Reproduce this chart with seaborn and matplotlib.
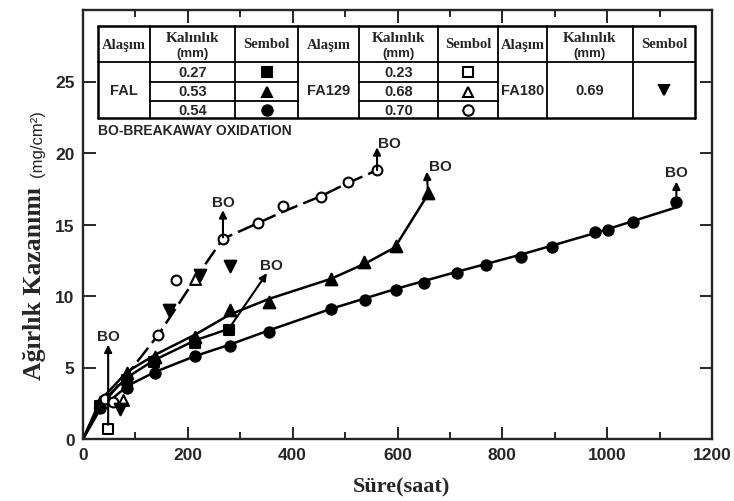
import seaborn as sns
import matplotlib.pyplot as plt
from matplotlib.lines import Line2D

# measured points, FAL alloy
fal027_x = [33, 84, 135, 214, 278]
fal027_y = [2.3, 4.1, 5.4, 6.7, 7.6]
fal053_x = [33, 84, 138, 214, 280, 355, 473, 536, 597, 658]
fal053_y = [2.6, 4.6, 5.7, 7.1, 9.0, 9.6, 11.2, 12.4, 13.5, 17.2]
fal054_x = [33, 84, 138, 214, 280, 355, 473, 538, 597, 650, 714, 769, 836, 894, 977, 1001, 1049, 1132]
fal054_y = [2.2, 3.6, 4.6, 5.8, 6.5, 7.5, 9.1, 9.7, 10.4, 10.9, 11.6, 12.2, 12.7, 13.4, 14.5, 14.6, 15.2, 16.6]

# FA129 alloy
fa129_023_x = [48]
fa129_023_y = [0.7]
fa129_068_x = [76, 214]
fa129_068_y = [2.7, 11.2]
fa129_070_x = [42, 58, 144, 178, 267, 334, 382, 455, 505, 561]
fa129_070_y = [2.8, 2.6, 7.3, 11.1, 14.0, 15.1, 16.3, 16.9, 18.0, 18.8]

# FA180 alloy
fa180_x = [71, 165, 223, 280]
fa180_y = [2.1, 9.0, 11.5, 12.1]

# curves drawn through the points
fit027_x = [0, 33, 84, 135, 214, 278]
fit027_y = [0, 2.5, 4.3, 5.5, 6.9, 7.7]
fit053_x = [0, 33, 84, 138, 214, 280, 355, 473, 540, 595, 658]
fit053_y = [0, 2.7, 4.7, 5.9, 7.3, 8.7, 9.8, 11.2, 12.3, 13.4, 17.1]
fit054_x = [0, 33, 84, 138, 214, 280, 355, 473, 597, 714, 836, 977, 1132]
fit054_y = [0, 2.1, 3.7, 4.7, 5.8, 6.6, 7.6, 9.1, 10.5, 11.7, 12.9, 14.4, 16.2]
fitfa_x = [0, 30, 84, 144, 214, 267, 334, 382, 455, 505, 561]
fitfa_y = [0, 2.1, 4.5, 7.3, 11.2, 14.0, 15.1, 15.9, 17.0, 17.9, 18.8]

# breakaway oxidation arrows: start -> tip
bo_x0 = [48, 267, 278, 561, 658, 1132]
bo_y0 = [1.0, 14.1, 7.7, 18.8, 17.2, 16.6]
bo_x1 = [48, 267, 351, 561, 656, 1132]
bo_y1 = [6.6, 16.0, 11.6, 20.4, 18.7, 18.0]
bo_offsets = [(0, 6), (0, 6), (3, 6), (9, 3), (10, 4), (0, 7)]

x_ticks = [0, 200, 400, 600, 800, 1000, 1200]
y_ticks = [0, 5, 10, 15, 20, 25]

sns.set_style("ticks")
plt.rcParams['font.family'] = ['Liberation Sans', 'DejaVu Sans']

W, H = 734, 502
fig = plt.figure(figsize=(W / 100, H / 100), dpi=100)
ax = fig.add_axes([83 / W, 1 - 440 / H, (712 - 83) / W, (440 - 11) / H])

fits = [
    (fit027_x, fit027_y, '-'),
    (fit053_x, fit053_y, '-'),
    (fit054_x, fit054_y, '-'),
    (fitfa_x, fitfa_y, (0, (7, 2.5))),
]
for fx, fy, ls in fits:
    sns.lineplot(x=fx, y=fy, ax=ax, color='black', lw=1.8, sort=False,
                 estimator=None, linestyle=ls, zorder=2)

series = [
    (fal027_x, fal027_y, 's', True, 55),
    (fal053_x, fal053_y, '^', True, 70),
    (fal054_x, fal054_y, 'o', True, 55),
    (fa129_023_x, fa129_023_y, 's', False, 50),
    (fa129_068_x, fa129_068_y, '^', False, 60),
    (fa129_070_x, fa129_070_y, 'o', False, 50),
    (fa180_x, fa180_y, 'v', True, 70),
]
for sx, sy, mk, filled, size in series:
    sns.scatterplot(x=sx, y=sy, ax=ax, marker=mk, s=size,
                    color='black' if filled else 'white', edgecolor='black',
                    linewidth=1.5, zorder=3)

for i in range(len(bo_x0)):
    ax.annotate('', xy=(bo_x1[i], bo_y1[i]), xytext=(bo_x0[i], bo_y0[i]),
                arrowprops=dict(arrowstyle='-|>', color='black', lw=1.5,
                                mutation_scale=11, shrinkA=0, shrinkB=0))
    ax.annotate('BO', xy=(bo_x1[i], bo_y1[i]), xytext=bo_offsets[i],
                textcoords='offset points', ha='center', va='center',
                fontsize=11, fontweight='bold')

ax.set_xlim(0, 1200)
ax.set_ylim(0, 30)
ax.set_xticks(x_ticks)
ax.set_xticks(range(100, 1200, 200), minor=True)
ax.set_yticks(y_ticks + [30])
ax.set_yticklabels([str(v) for v in y_ticks] + [''])
ax.tick_params(which='both', direction='in', top=True, right=True, width=1.4,
               labelsize=12.5, pad=6)
ax.tick_params(which='major', length=9)
ax.tick_params(which='minor', length=5)
for lab in ax.get_xticklabels() + ax.get_yticklabels():
    lab.set_fontweight('bold')
for sp in ax.spines.values():
    sp.set_linewidth(1.7)
    sp.set_visible(True)
ax.set_xlabel('')
ax.set_ylabel('')

fig.text(401 / W, 1 - 487 / H, 'Süre(saat)', family='Liberation Serif',
         fontsize=16, fontweight='bold', ha='center', va='center')
fig.text(35 / W, 1 - 283 / H, 'Ağırlık Kazanımı', family='Liberation Serif',
         fontsize=18.5, fontweight='bold', rotation=90, ha='center', va='center')
fig.text(37 / W, 1 - 144 / H, '(mg/cm²)', fontsize=12, rotation=90,
         ha='center', va='center')


# legend table in pixel coordinates of the figure
def fpt(px, py):
    return px / W, 1 - py / H


def seg(x0, y0, x1, y1, lw=1.3):
    a, b = fpt(x0, y0)
    c, d = fpt(x1, y1)
    fig.add_artist(Line2D([a, c], [b, d], transform=fig.transFigure,
                          color='black', lw=lw))


cols = [98, 150, 235, 298, 359, 438, 498, 547, 633, 695]
top, head, r1, r2, bot = 27, 63, 83, 102, 119
for cx in cols:
    seg(cx, top, cx, bot, 1.8 if cx in (98, 695) else 1.3)
seg(98, top, 695, top, 1.8)
seg(98, bot, 695, bot, 1.8)
seg(98, head, 695, head)
for ry in (r1, r2):
    seg(150, ry, 298, ry)
    seg(359, ry, 498, ry)

centers = [(cols[i] + cols[i + 1]) / 2 for i in range(len(cols) - 1)]
for k in range(3):
    c0 = centers[3 * k]
    c1 = centers[3 * k + 1]
    c2 = centers[3 * k + 2]
    fig.text(*fpt(c0, 45), 'Alaşım', family='Liberation Serif', fontsize=10.5,
             fontweight='bold', ha='center', va='center')
    fig.text(*fpt(c1, 38), 'Kalınlık', family='Liberation Serif', fontsize=11,
             fontweight='bold', ha='center', va='center')
    fig.text(*fpt(c1, 54), '(mm)', fontsize=9.5, fontweight='bold',
             ha='center', va='center')
    fig.text(*fpt(c2, 45), 'Sembol', family='Liberation Serif', fontsize=10.5,
             fontweight='bold', ha='center', va='center')

row_y = [73, 92.5, 111]
mid_y = (head + bot) / 2
table_alloys = ['FAL', 'FA129', 'FA180']
table_thick = [['0.27', '0.53', '0.54'], ['0.23', '0.68', '0.70'], ['0.69']]
table_marks = [[('s', True), ('^', True), ('o', True)],
               [('s', False), ('^', False), ('o', False)],
               [('v', True)]]
for k in range(3):
    fig.text(*fpt(centers[3 * k], mid_y), table_alloys[k], fontsize=10.5,
             fontweight='bold', ha='center', va='center')
    ys = row_y if len(table_thick[k]) == 3 else [mid_y]
    for j, yy in enumerate(ys):
        fig.text(*fpt(centers[3 * k + 1], yy), table_thick[k][j], fontsize=10.5,
                 fontweight='bold', ha='center', va='center')
        mk, filled = table_marks[k][j]
        mx, my = fpt(centers[3 * k + 2], yy)
        fig.add_artist(Line2D([mx], [my], transform=fig.transFigure, marker=mk,
                              markersize=7.5, markerfacecolor='black' if filled else 'white',
                              markeredgecolor='black', markeredgewidth=1.5, ls='none'))

fig.text(*fpt(98, 131), 'BO-BREAKAWAY OXIDATION', fontsize=10,
         fontweight='bold', ha='left', va='center')

fig.savefig('out.png', dpi=100)
